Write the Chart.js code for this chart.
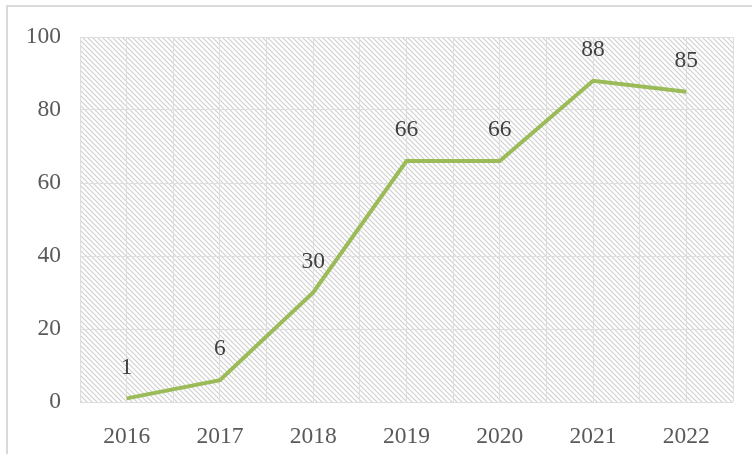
<!DOCTYPE html>
<html>
<head>
<meta charset="utf-8">
<script src="https://cdn.jsdelivr.net/npm/chart.js@4.4.1/dist/chart.umd.min.js"></script>
<style>
    html, body { margin: 0; padding: 0; background: #fff; }
    body { width: 752px; height: 454px; position: relative; overflow: hidden; }
    .frame {
        position: absolute; left: 6px; top: 5px; width: 800px; height: 500px;
        border: 2px solid #d9d9d9; box-sizing: border-box;
    }
    .wrap { position: absolute; left: 0; top: 0; width: 752px; height: 454px; }
    canvas { display: block; }
</style>
</head>
<body>
<div class="frame"></div>
<div class="wrap"><canvas id="chart" width="752" height="454"></canvas></div>
<script>
// Data
const years = ['2016', '2017', '2018', '2019', '2020', '2021', '2022'];
const values = [1, 6, 30, 66, 66, 88, 85];
const yTicks = [0, 20, 40, 60, 80, 100];

const FONT = '"Liberation Serif", "Times New Roman", serif';
const FSIZE = 23.5;

// hatched plot background
let hatch = null;
function makeHatch(ctx) {
    const size = 5;
    const c = document.createElement('canvas');
    c.width = size; c.height = size;
    const g = c.getContext('2d');
    g.fillStyle = '#ffffff';
    g.fillRect(0, 0, size, size);
    g.strokeStyle = '#d0d0d0';
    g.lineWidth = 1.2;
    g.beginPath();
    g.moveTo(-1, -1); g.lineTo(size + 1, size + 1);
    g.moveTo(-1, size - 1); g.lineTo(1, size + 1);
    g.moveTo(size - 1, -1); g.lineTo(size + 1, 1);
    g.stroke();
    return ctx.createPattern(c, 'repeat');
}

const hatchPlugin = {
    id: 'hatch',
    beforeDraw(chart) {
        const { ctx, chartArea: a } = chart;
        if (!hatch) hatch = makeHatch(ctx);
        ctx.save();
        ctx.fillStyle = hatch;
        ctx.fillRect(a.left, a.top, a.right - a.left, a.bottom - a.top);
        ctx.restore();
    }
};

const labelPlugin = {
    id: 'pointLabels',
    afterDatasetsDraw(chart) {
        const { ctx } = chart;
        const meta = chart.getDatasetMeta(0);
        ctx.save();
        ctx.font = FSIZE + 'px ' + FONT;
        ctx.fillStyle = '#404040';
        ctx.textAlign = 'center';
        ctx.textBaseline = 'middle';
        meta.data.forEach((pt, i) => {
            ctx.fillText(String(values[i]), pt.x, pt.y - 31);
        });
        ctx.restore();
    }
};

new Chart(document.getElementById('chart'), {
    type: 'line',
    data: {
        labels: years,
        datasets: [{
            data: values,
            borderColor: '#9bbb59',
            borderWidth: 4,
            pointRadius: 0,
            tension: 0,
            borderCapStyle: 'butt',
            borderJoinStyle: 'miter'
        }]
    },
    options: {
        responsive: false,
        animation: false,
        devicePixelRatio: 1,
        layout: { padding: { left: 0, top: 37, right: 19, bottom: 0 } },
        plugins: { legend: { display: false }, tooltip: { enabled: false } },
        scales: {
            x: {
                type: 'category',
                offset: true,
                grid: { display: false },
                border: { display: false },
                ticks: { color: '#595959', font: { family: FONT, size: FSIZE }, padding: 13, maxRotation: 0, autoSkip: false },
                afterFit(s) { s.height = 52; }
            },
            xg: {
                type: 'linear',
                position: 'bottom',
                min: 0, max: 14,
                grid: { color: '#dedede', lineWidth: 1, drawTicks: false },
                border: { display: false },
                ticks: { display: false, stepSize: 1 },
                afterFit(s) { s.height = 0; }
            },
            y: {
                min: 0, max: 100,
                afterBuildTicks(s) { s.ticks = yTicks.map(v => ({ value: v })); },
                grid: { color: '#dedede', lineWidth: 1, drawTicks: false },
                border: { display: false },
                ticks: { color: '#595959', font: { family: FONT, size: FSIZE }, padding: 19 },
                afterFit(s) { s.width = 80; }
            }
        }
    },
    plugins: [hatchPlugin, labelPlugin]
});
</script>
</body>
</html>
